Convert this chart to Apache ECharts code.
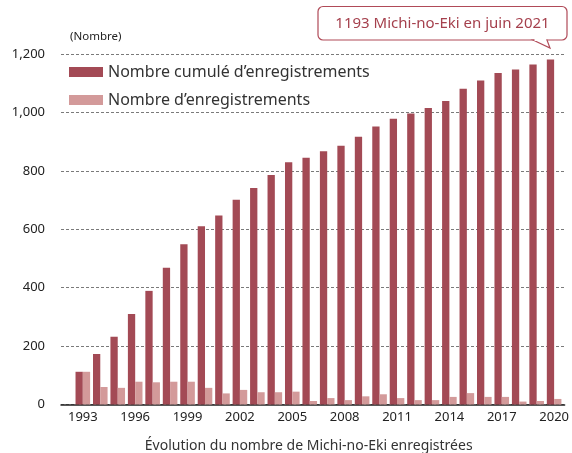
<!DOCTYPE html>
<html>
<head>
<meta charset="utf-8">
<script src="https://cdn.jsdelivr.net/npm/echarts@6/dist/echarts.min.js"></script>
<style>
html,body{margin:0;padding:0;background:#fff;}
#chart{width:572px;height:453px;}
</style>
</head>
<body>
<div id="chart"></div>
<script>
const years = [1993,1994,1995,1996,1997,1998,1999,2000,2001,2002,2003,2004,2005,2006,2007,2008,2009,2010,2011,2012,2013,2014,2015,2016,2017,2018,2019,2020];
const cumulative = [112,173,232,310,389,468,549,610,647,701,741,786,829,845,867,886,917,952,978,996,1015,1039,1081,1109,1135,1147,1164,1181];
const annual = [112,60,57,78,76,78,78,57,38,50,42,42,44,12,22,15,28,35,22,15,15,26,39,26,26,10,12,19];
const xTickLabels = [1993,1996,1999,2002,2005,2008,2011,2014,2017,2020];
const seriesNames = ['Nombre cumulé d’enregistrements', 'Nombre d’enregistrements'];
const calloutText = '1193 Michi-no-Eki en juin 2021';
const bottomTitle = 'Évolution du nombre de Michi-no-Eki enregistrées';
const unitLabel = '(Nombre)';

const FONT = 'Noto Sans';
const RED = '#b04a58';
const chart = echarts.init(document.getElementById('chart'), null, {renderer: 'canvas'});
chart.setOption({
  animation: false,
  backgroundColor: '#fff',
  textStyle: {fontFamily: FONT},
  grid: {left: 61, right: 5, top: 54, bottom: 48.5, containLabel: false},
  legend: {
    orient: 'vertical', left: 64, top: 58, itemWidth: 34, itemHeight: 10, itemGap: 10,
    icon: 'rect',
    textStyle: {fontFamily: FONT, fontSize: 16, color: '#333', lineHeight: 18},
    data: seriesNames
  },
  xAxis: {
    type: 'value', min: 1991.75, max: 2020.6,
    axisLine: {show: true, lineStyle: {color: '#222', width: 1.5}},
    axisTick: {show: false},
    splitLine: {show: false},
    axisLabel: {customValues: xTickLabels, formatter: v => String(v), fontFamily: FONT, fontSize: 13, color: '#222', margin: 6}
  },
  yAxis: {
    type: 'value', min: 0, max: 1200, interval: 200,
    axisLine: {show: false}, axisTick: {show: false},
    axisLabel: {formatter: v => v.toLocaleString('en-US'), fontFamily: FONT, fontSize: 13, color: '#222', margin: 16},
    splitLine: {show: true, lineStyle: {color: '#7a7a7a', type: [3,2], width: 1}}
  },
  series: [
    {name: seriesNames[0], type: 'bar', barWidth: 7.3, barGap: '0%', itemStyle: {color: '#a34a55'},
     data: years.map((y,i) => [y, cumulative[i]])},
    {name: seriesNames[1], type: 'bar', barWidth: 7.3, barGap: '0%', itemStyle: {color: '#d39a9a'},
     data: years.map((y,i) => [y, annual[i]])}
  ],
  graphic: [
    {type: 'text', left: 70, top: 31, style: {text: unitLabel, fontFamily: FONT, fontSize: 11.5, fill: '#222'}},
    {type: 'text', x: 308.7, y: 446, style: {text: bottomTitle, fontFamily: FONT, fontSize: 14, fill: '#333', align: 'center', verticalAlign: 'middle'}},
    {type: 'rect', shape: {x: 318, y: 6.5, width: 249, height: 33.5, r: 5},
     style: {fill: '#fff', stroke: RED, lineWidth: 1.2}},
    {type: 'polygon', shape: {points: [[533,40],[550,48],[547,40]]},
     style: {fill: '#fff', stroke: RED, lineWidth: 1.2}},
    {type: 'line', shape: {x1: 534.5, y1: 40, x2: 546.3, y2: 40},
     style: {stroke: '#fff', lineWidth: 2}},
    {type: 'text', x: 442.5, y: 23.5, style: {text: calloutText, fontFamily: FONT, fontSize: 15, fill: '#a5404d', align: 'center', verticalAlign: 'middle'}}
  ]
});
</script>
</body>
</html>
